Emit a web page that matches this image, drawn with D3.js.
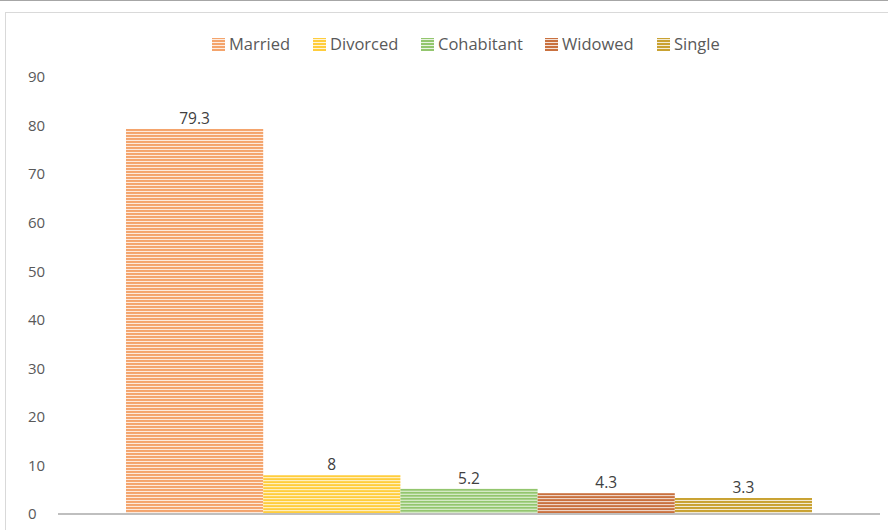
<!DOCTYPE html>
<html>
<head>
<meta charset="utf-8">
<script src="https://cdn.jsdelivr.net/npm/d3@7"></script>
<style>
  html, body { margin: 0; padding: 0; background: #fff; }
  svg { display: block; font-family: "Open Sans", "Noto Sans", sans-serif; }
</style>
</head>
<body>
<svg id="chart" width="888" height="530"></svg>
<script>
// Marital status shares (percent)
const categories = ["Married", "Divorced", "Cohabitant", "Widowed", "Single"];
const values = [79.3, 8, 5.2, 4.3, 3.3];
const colors = ["#f4a46c", "#ffcd3c", "#93c66e", "#c9713f", "#c9a232"];
const yTicks = [0, 10, 20, 30, 40, 50, 60, 70, 80, 90];

const svg = d3.select("#chart");
const W = 888, H = 530;

const y = d3.scaleLinear().domain([0, 90]).range([514, 77]);
const x = d3.scaleBand().domain(categories).range([126, 812]).padding(0);

// Outer frame
svg.append("line").attr("x1", 0).attr("x2", W).attr("y1", 0.5).attr("y2", 0.5)
  .attr("stroke", "#a6a6a6").attr("stroke-width", 1);
svg.append("rect").attr("x", 5.5).attr("y", 12.5).attr("width", W).attr("height", H)
  .attr("fill", "#fff").attr("stroke", "#d9d9d9");

// Horizontal-stripe fill; the tile origin is set so each shape starts on a coloured stripe
const defs = svg.append("defs");
function stripe(id, color, originY) {
  const p = defs.append("pattern").attr("id", id)
    .attr("patternUnits", "userSpaceOnUse").attr("x", 0).attr("y", originY)
    .attr("width", 6).attr("height", 3);
  p.append("rect").attr("width", 6).attr("height", 3).attr("fill", color);
  p.append("rect").attr("y", 2).attr("width", 6).attr("height", 1).attr("fill", "#fff").attr("opacity", 0.8);
}
categories.forEach((c, i) => {
  stripe("bar" + i, colors[i], y(values[i]));
  stripe("key" + i, colors[i], 38);
});

// Y axis labels (no axis line)
const yAxis = svg.append("g").attr("transform", "translate(28,0)")
  .call(d3.axisLeft(y).tickValues(yTicks).tickSize(0).tickPadding(0));
yAxis.select(".domain").remove();
yAxis.selectAll("text").attr("text-anchor", "start").attr("fill", "#595959")
  .style("font-size", "15px").style("font-family", "'Open Sans', sans-serif");

// Bars
svg.append("g").selectAll("rect").data(categories).join("rect")
  .attr("x", d => x(d))
  .attr("y", (d, i) => y(values[i]))
  .attr("width", x.bandwidth())
  .attr("height", (d, i) => y(0) - y(values[i]))
  .attr("fill", (d, i) => `url(#bar${i})`);

// Baseline
svg.append("line").attr("x1", 58).attr("x2", 880).attr("y1", y(0)).attr("y2", y(0))
  .attr("stroke", "#bfbfbf").attr("stroke-width", 2);

// Value labels
svg.append("g").selectAll("text").data(categories).join("text")
  .attr("x", d => x(d) + x.bandwidth() / 2)
  .attr("y", (d, i) => y(values[i]) - 5)
  .attr("text-anchor", "middle").attr("fill", "#404040")
  .style("font-size", "15.5px")
  .text((d, i) => values[i]);

// Legend
const legendX = [212, 313, 421, 545, 657];
const lg = svg.append("g").selectAll("g").data(categories).join("g")
  .attr("transform", (d, i) => `translate(${legendX[i]},38)`);
lg.append("rect").attr("width", 13).attr("height", 13)
  .attr("fill", (d, i) => `url(#key${i})`);
lg.append("text").attr("x", 17).attr("y", 12).attr("fill", "#595959")
  .style("font-size", "16.5px").text(d => d);
</script>
</body>
</html>
